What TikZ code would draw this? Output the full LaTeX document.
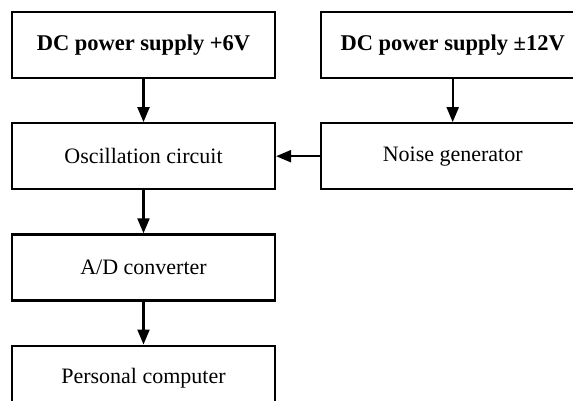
\documentclass[tikz,border=0pt]{standalone}
\usepackage{fontspec}
\setmainfont{Liberation Serif}
\usetikzlibrary{arrows.meta, positioning}

\begin{document}
\begin{tikzpicture}[
  % ── Style definitions ──
  blk/.style={
    rectangle, draw=black, line width=2.2pt,
    minimum width=263pt, minimum height=66pt,
    inner sep=0pt, font=\fontsize{22}{26}\selectfont
  },
  bblk/.style={blk, font=\fontsize{22.5}{26}\selectfont\bfseries},
  arr/.style={-{Triangle[length=15pt, width=12pt]}, line width=2.2pt},
  % ── Node placement ──
  node distance=43pt and 44pt
]
\useasboundingbox (0,0) rectangle (573pt,-401pt);

% ─────────── Left column ─────────────────────────────────────
\node[bblk] (ps6) at (143.5pt,-45pt) {DC power supply +6V};
\node[blk, below=of ps6] (osc) {Oscillation circuit};
\node[blk, below=of osc] (adc) {A/D converter};
\node[blk, below=of adc] (pc)  {Personal computer};

% ─────────── Right column ────────────────────────────────────
\node[bblk, right=of ps6] (ps12)  {DC power supply ±12V};
\node[blk,  right=of osc] (noise) {Noise generator};

% ─────────── Arrows ──────────────────────────────────────────
\draw[arr] (ps6)   -- (osc);
\draw[arr] (osc)   -- (adc);
\draw[arr] (adc)   -- (pc);
\draw[arr] (ps12)  -- (noise);
\draw[arr] (noise) -- (osc);
\end{tikzpicture}
\end{document}
